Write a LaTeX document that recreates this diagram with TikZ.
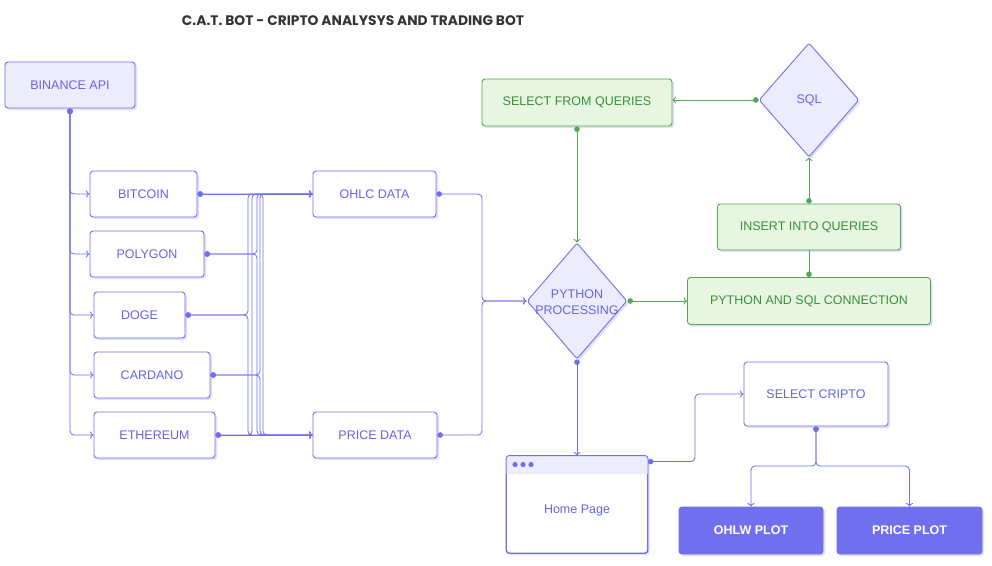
\documentclass[tikz,border=0pt]{standalone}
\usepackage{fontspec}
\setmainfont{Liberation Sans}
\newfontfamily\titlefont{Poppins}
\usetikzlibrary{shapes.geometric,arrows.meta,shadows}
\definecolor{ind}{RGB}{112,112,238}
\definecolor{indtext}{RGB}{100,100,230}
\definecolor{lav}{RGB}{236,236,252}
\definecolor{shad}{RGB}{224,224,248}
\definecolor{grn}{RGB}{86,164,86}
\definecolor{grnfill}{RGB}{230,246,224}
\definecolor{grntext}{RGB}{60,142,60}
\definecolor{titlecol}{RGB}{52,52,52}
\tikzset{
  box/.style={draw=ind, line width=0.9pt, rounded corners=3pt, fill=white, text=indtext,
    font=\fontsize{12.5}{14}\selectfont, minimum height=46pt, inner sep=0pt,
    general shadow={fill=shad, shadow xshift=2pt, shadow yshift=-2pt}},
  lavbox/.style={box, fill=lav},
  gbox/.style={box, draw=grn, fill=grnfill, text=grntext},
  solidbox/.style={box, fill=ind, draw=ind, text=white, font=\fontsize{12.5}{14}\selectfont\bfseries},
  dia/.style={diamond, draw=ind, line width=0.9pt, fill=lav, rounded corners=2pt, inner sep=0pt,
    general shadow={fill=shad, shadow xshift=2pt, shadow yshift=-2pt}},
  conn/.style={draw=ind, line width=0.85pt, rounded corners=4pt, {Circle[length=5.5pt]}-{To[length=3.5pt,width=7pt]}},
  gconn/.style={conn, draw=grn},
  gline/.style={draw=grn, line width=0.85pt, {Circle[length=5.5pt]}-},
}
\begin{document}
\begin{tikzpicture}[x=1pt,y=-1pt]
\useasboundingbox[fill=white] (0,0) rectangle (992,565);
% title
\node[font=\titlefont\bfseries\fontsize{13.8}{16}\selectfont, text=titlecol] (title) at (353,21) {C.A.T. BOT - CRIPTO ANALYSYS AND TRADING BOT};
% nodes
\node[lavbox, minimum width=130pt] (bin) at (70,85) {BINANCE API};
\node[box, minimum width=107pt] (btc) at (143.5,194) {BITCOIN};
\node[box, minimum width=114pt] (pol) at (147,254) {POLYGON};
\node[box, minimum width=91pt] (doge) at (139.5,315) {DOGE};
\node[box, minimum width=116pt] (card) at (152,375) {CARDANO};
\node[box, minimum width=121pt] (eth) at (154.5,435) {ETHEREUM};
\node[box, minimum width=123pt] (ohlc) at (374.5,194) {OHLC DATA};
\node[box, minimum width=124pt] (prc) at (375,435) {PRICE DATA};
\node[dia, minimum width=100pt, minimum height=116pt,
  label={[text=indtext, align=center, font=\fontsize{12.5}{16}\selectfont, yshift=-1pt]center:PYTHON\\PROCESSING}] (py) at (577,301) {};
\node[gbox, minimum width=190pt, minimum height=47pt] (sel) at (577,102.5) {SELECT FROM QUERIES};
\node[dia, minimum width=100pt, minimum height=114pt,
  label={[text=indtext, font=\fontsize{12.5}{14}\selectfont]center:SQL}] (sql) at (809,100) {};
\node[gbox, minimum width=183pt] (ins) at (809,227) {INSERT INTO QUERIES};
\node[gbox, minimum width=243pt, minimum height=47pt] (psc) at (809,301) {PYTHON AND SQL CONNECTION};
\node[box, minimum width=144pt, minimum height=64pt] (scr) at (816,394) {SELECT CRIPTO};
\node[box, minimum width=141pt, minimum height=97pt] (home) at (577,504.5) {};
\begin{scope}
\clip[rounded corners=3pt] (home.north west) rectangle (home.south east);
\fill[lav] (home.north west) rectangle ([yshift=-18pt]home.north east);
\end{scope}
\draw[ind, line width=0.9pt, rounded corners=3pt] (home.north west) rectangle (home.south east);
\foreach \dx in {9,17,25} \fill[ind] ([xshift=\dx pt, yshift=-9pt]home.north west) circle (2.6pt);
\node[text=indtext, font=\fontsize{12.5}{14}\selectfont] (hometext) at (577,510) {Home Page};
\node[solidbox, minimum width=144pt, minimum height=47pt] (ohlw) at (751,530.5) {OHLW PLOT};
\node[solidbox, minimum width=145pt, minimum height=47pt] (pplot) at (909.5,530.5) {PRICE PLOT};
% helper coordinates
\coordinate (c1) at (263,0);
\coordinate (c2) at (257,0);
\coordinate (c3) at (248,0);
\coordinate (c4) at (260,0);
\coordinate (c5) at (252,0);
\coordinate (cD) at (482,0);
\coordinate (hc) at (695,0);
\coordinate (sp) at (0,466);
\coordinate (hs) at ([yshift=-6pt]home.north east);
% Binance to coins
\foreach \c in {btc,pol,doge,card,eth} \draw[conn] (bin.south) |- (\c.west);
% coins to data
\draw[conn] (btc.east) -- (ohlc.west);
\draw[conn] (btc.east) -- (btc.east -| c1) |- (prc.west);
\draw[conn] (pol.east) -- (pol.east -| c2) |- (ohlc.west);
\draw[conn] (pol.east) -- (pol.east -| c2) |- (prc.west);
\draw[conn] (doge.east) -- (doge.east -| c3) |- (ohlc.west);
\draw[conn] (doge.east) -- (doge.east -| c3) |- (prc.west);
\draw[conn] (card.east) -- (card.east -| c4) |- (ohlc.west);
\draw[conn] (card.east) -- (card.east -| c4) |- (prc.west);
\draw[conn] (eth.east) -- (prc.west);
\draw[conn] (eth.east) -- (eth.east -| c5) |- (ohlc.west);
% data to python
\draw[conn] (ohlc.east) -- (ohlc.east -| cD) |- (py.west);
\draw[conn] (prc.east) -- (prc.east -| cD) |- (py.west);
% python and sql
\draw[conn] (py.south) -- (home.north);
\draw[gconn] (py.east) -- (psc.west);
\draw[gconn] (sel.south) -- (py.north);
\draw[gconn] (sql.west) -- (sql.west -| sel.east);
\draw[gconn] (ins.north) -- (sql.south);
\draw[gline] (psc.north) -- (ins.south);
% home page and plots
\draw[conn] (hs) -- (hs -| hc) |- (scr.west);
\draw[conn] (scr.south) -- (scr.south |- sp) -| (ohlw.north);
\draw[conn] (scr.south) -- (scr.south |- sp) -| (pplot.north);
\end{tikzpicture}
\end{document}
